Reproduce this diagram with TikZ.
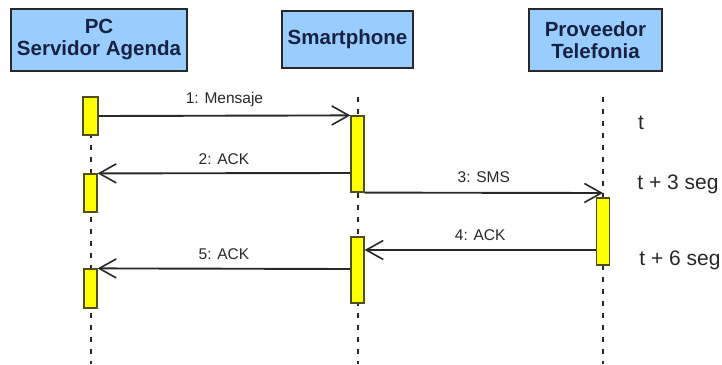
\documentclass[tikz,border=0pt]{standalone}
\usepackage{fontspec}
\setmainfont{Liberation Sans}
\usetikzlibrary{arrows.meta}
\definecolor{hdrfill}{RGB}{153,204,255}
\definecolor{hdrtext}{RGB}{22,34,64}
\definecolor{actfill}{RGB}{255,255,0}
\definecolor{actdraw}{RGB}{80,80,30}
\definecolor{ink}{RGB}{40,40,40}
\tikzset{
  header/.style={draw=ink, line width=1.4pt, fill=hdrfill, text=hdrtext,
    font=\fontsize{20.5}{22}\selectfont\bfseries, align=center, inner sep=0pt},
  activation/.style={draw=actdraw, line width=1.2pt, fill=actfill, inner sep=0pt,
    minimum width=13pt},
  lifeline/.style={draw=ink, line width=2pt, dash pattern=on 5pt off 7pt},
  msg/.style={draw=ink, line width=1.9pt,
    -{Straight Barb[length=17pt,width=19pt,line width=1.6pt]}},
  msglabel/.style={text=ink, font=\fontsize{15.5}{17}\selectfont, inner sep=0pt},
  timelabel/.style={text=ink, font=\fontsize{21}{23}\selectfont, inner sep=0pt}
}
\begin{document}
\begin{tikzpicture}[x=1pt, y=-1pt]
  \useasboundingbox (0,0) rectangle (722,364);

  % participants
  \node[header, minimum width=176pt, minimum height=62pt] (pc) at (99,40) {PC\\Servidor Agenda};
  \node[header, minimum width=131pt, minimum height=57pt] (sp) at (347.5,39.5) {Smartphone};
  \node[header, minimum width=133pt, minimum height=62pt] (pv) at (595.5,40) {Proveedor\\Telefonia};

  % lifelines
  \coordinate (pcTop) at (90.5,97);
  \coordinate (pcBot) at (90.5,364);
  \coordinate (spTop) at (357.5,97);
  \coordinate (spBot) at (357.5,364);
  \coordinate (pvTop) at (603,97);
  \coordinate (pvBot) at (603,364);
  \draw[lifeline] (pcTop) -- (pcBot);
  \draw[lifeline] (spTop) -- (spBot);
  \draw[lifeline] (pvTop) -- (pvBot);

  % activation bars
  \node[activation, minimum width=15pt, minimum height=38pt] (pc1) at (90.5,116) {};
  \node[activation, minimum height=38pt] (pc2) at (90.5,193) {};
  \node[activation, minimum height=39pt] (pc3) at (90.5,288.5) {};
  \node[activation, minimum height=76pt] (sp1) at (357.5,154) {};
  \node[activation, minimum height=66pt] (sp2) at (357.5,270) {};
  \node[activation, minimum height=67pt] (pv1) at (603,231.5) {};

  % messages
  \coordinate (m3end) at (603,193);
  \draw[msg] (pc1.east) -- (sp1.north west) node[msglabel, midway, above=8pt] {1: Mensaje};
  \draw[msg] (sp1.west |- 0,173) -- (pc2.north east) node[msglabel, midway, above=8pt] {2: ACK};
  \draw[msg] (sp1.south east) -- (m3end) node[msglabel, midway, above=9pt] {3: SMS};
  \draw[msg] (pv1.west |- 0,250) -- (sp2.east |- 0,250) node[msglabel, midway, above=8pt] {4: ACK};
  \draw[msg] (sp2.west |- 0,269) -- (pc3.north east) node[msglabel, midway, above=8pt] {5: ACK};

  % time marks
  \node[timelabel] (t0) at (641,123) {t};
  \node[timelabel] (t3) at (678,184) {t + 3 seg};
  \node[timelabel] (t6) at (680,260) {t + 6 seg};
\end{tikzpicture}
\end{document}
